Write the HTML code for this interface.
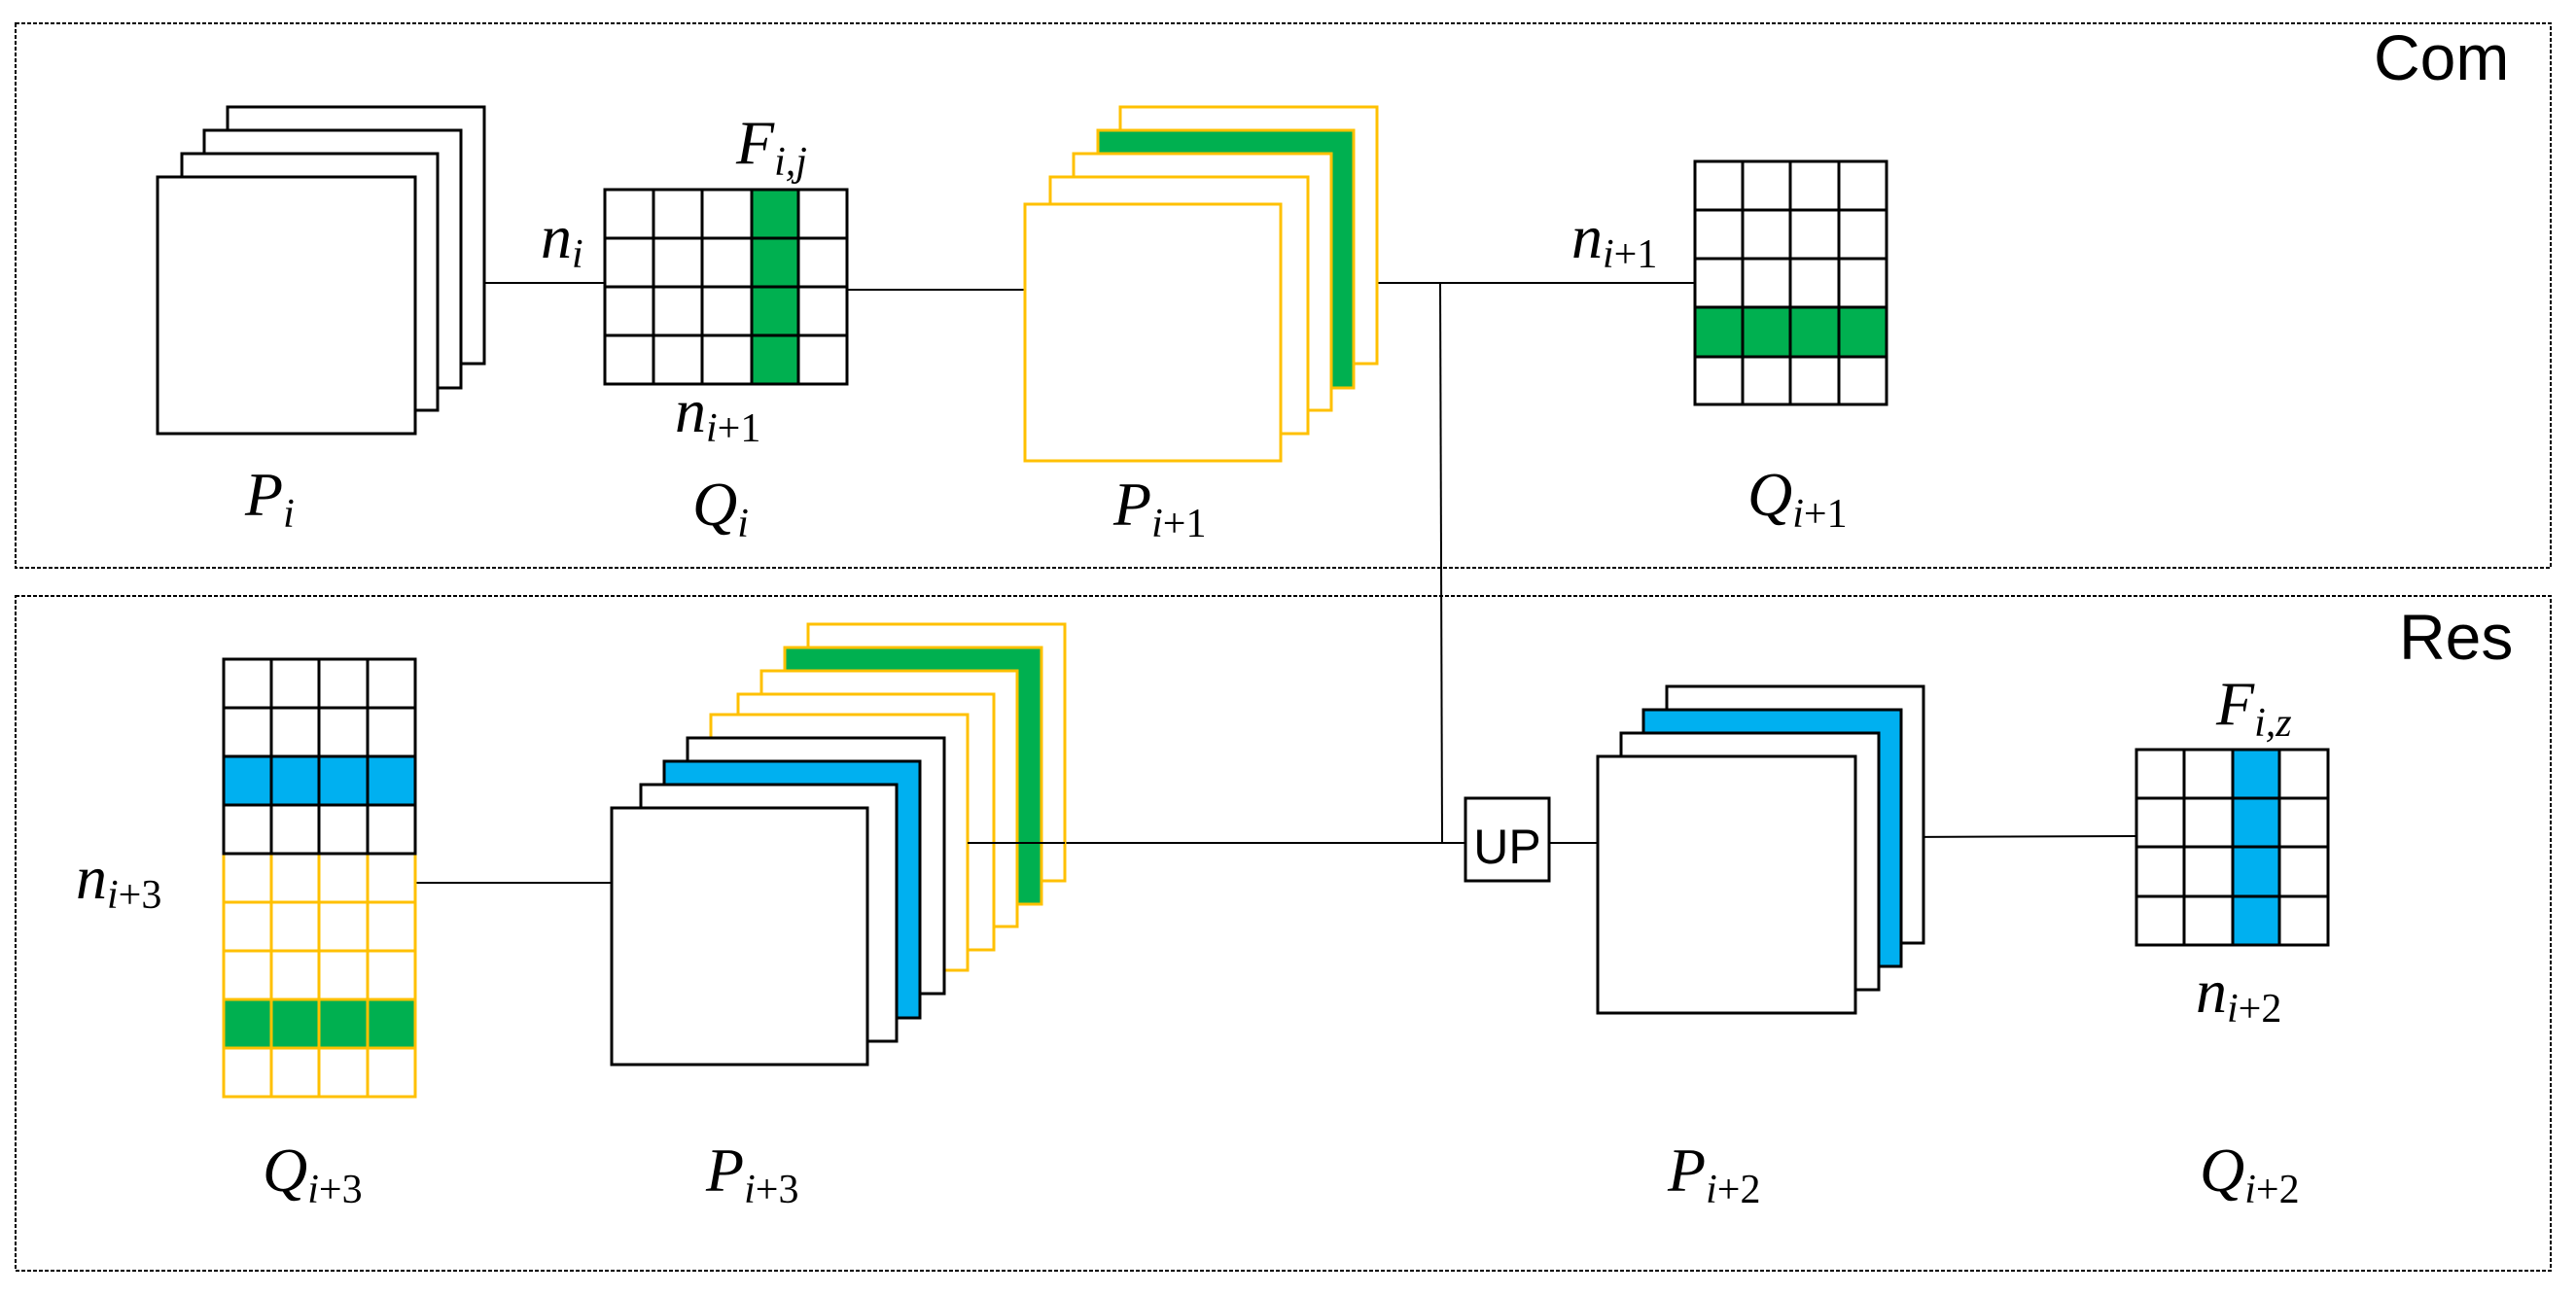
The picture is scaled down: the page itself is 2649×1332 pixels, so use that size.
<!DOCTYPE html>
<html><head><meta charset="utf-8"><style>
html,body{margin:0;padding:0;background:#fff;}
svg{display:block;}
.m{font-family:"Liberation Serif",serif;font-style:italic;font-size:64px;fill:#000;}
.s{font-size:42px;}
.u{font-style:normal;}
.lbl{font-family:"Liberation Sans",sans-serif;font-size:66px;fill:#000;}
</style></head><body>
<svg width="2649" height="1332" viewBox="0 0 2649 1332" xmlns="http://www.w3.org/2000/svg">
<!-- boxes -->
<rect x="16" y="24" width="2607" height="560" fill="none" stroke="#000" stroke-width="2" stroke-dasharray="4,2"/>
<rect x="16" y="613" width="2607" height="694" fill="none" stroke="#000" stroke-width="2" stroke-dasharray="4,2"/>
<text class="lbl" x="2441" y="82">Com</text>
<text class="lbl" x="2467" y="678">Res</text>

<!-- connectors -->
<g stroke="#000" stroke-width="2" fill="none">
<line x1="450" y1="291" x2="622" y2="291"/>
<line x1="871" y1="298" x2="1054" y2="298"/>
<line x1="1369" y1="291" x2="1743" y2="291"/>
<line x1="1481" y1="291" x2="1483" y2="867"/>
<line x1="427" y1="908" x2="629" y2="908"/>
<line x1="995" y1="867" x2="1507" y2="867"/>
<line x1="1593" y1="867" x2="1643" y2="867"/>
<line x1="1955" y1="861" x2="2197" y2="860"/>
</g>

<!-- P_i stack -->
<g stroke="#000" stroke-width="3" fill="#fff">
<rect x="234" y="110" width="264" height="264"/>
<rect x="210" y="134" width="264" height="265"/>
<rect x="187" y="158" width="263" height="264"/>
<rect x="162" y="182" width="265" height="264"/>
</g>

<!-- Q_i grid -->
<rect x="773" y="195" width="48" height="200" fill="#00b050"/>
<g stroke="#000" stroke-width="3" fill="none">
<rect x="622" y="195" width="249" height="200"/>
<line x1="672" y1="195" x2="672" y2="395"/><line x1="722" y1="195" x2="722" y2="395"/>
<line x1="773" y1="195" x2="773" y2="395"/><line x1="821" y1="195" x2="821" y2="395"/>
<line x1="622" y1="245" x2="871" y2="245"/><line x1="622" y1="295" x2="871" y2="295"/><line x1="622" y1="345" x2="871" y2="345"/>
</g>

<!-- P_{i+1} stack -->
<g stroke="#ffc000" stroke-width="3">
<rect x="1152" y="110" width="264" height="264" fill="#fff"/>
<rect x="1129" y="134" width="263" height="265" fill="#00b050"/>
<rect x="1104" y="158" width="265" height="264" fill="#fff"/>
<rect x="1080" y="182" width="265" height="264" fill="#fff"/>
<rect x="1054" y="210" width="263" height="264" fill="#fff"/>
</g>

<!-- Q_{i+1} grid -->
<rect x="1743" y="316" width="197" height="51" fill="#00b050"/>
<g stroke="#000" stroke-width="3" fill="none">
<rect x="1743" y="166" width="197" height="250"/>
<line x1="1792" y1="166" x2="1792" y2="416"/><line x1="1841" y1="166" x2="1841" y2="416"/><line x1="1891" y1="166" x2="1891" y2="416"/>
<line x1="1743" y1="216" x2="1940" y2="216"/><line x1="1743" y1="266" x2="1940" y2="266"/>
<line x1="1743" y1="316" x2="1940" y2="316"/><line x1="1743" y1="367" x2="1940" y2="367"/>
</g>

<!-- Q_{i+3} grid -->
<rect x="230" y="778" width="197" height="50" fill="#00b0f0"/>
<rect x="230" y="1028" width="197" height="50" fill="#00b050"/>
<g stroke="#ffc000" stroke-width="3" fill="none">
<rect x="230" y="878" width="197" height="250"/>
<line x1="279" y1="878" x2="279" y2="1128"/><line x1="328" y1="878" x2="328" y2="1128"/><line x1="378" y1="878" x2="378" y2="1128"/>
<line x1="230" y1="928" x2="427" y2="928"/><line x1="230" y1="978" x2="427" y2="978"/>
<line x1="230" y1="1028" x2="427" y2="1028"/><line x1="230" y1="1078" x2="427" y2="1078"/>
</g>
<g stroke="#000" stroke-width="3" fill="none">
<rect x="230" y="678" width="197" height="200"/>
<line x1="279" y1="678" x2="279" y2="878"/><line x1="328" y1="678" x2="328" y2="878"/><line x1="378" y1="678" x2="378" y2="878"/>
<line x1="230" y1="728" x2="427" y2="728"/><line x1="230" y1="778" x2="427" y2="778"/><line x1="230" y1="828" x2="427" y2="828"/>
</g>

<!-- P_{i+3} stack -->
<g stroke-width="3">
<rect x="831" y="642" width="264" height="264" fill="#fff" stroke="#ffc000"/>
<rect x="807" y="666" width="264" height="264" fill="#00b050" stroke="#ffc000"/>
<rect x="783" y="690" width="263" height="263" fill="#fff" stroke="#ffc000"/>
<rect x="759" y="714" width="263" height="263" fill="#fff" stroke="#ffc000"/>
<rect x="731" y="735" width="264" height="263" fill="#fff" stroke="#ffc000"/>
<rect x="707" y="759" width="264" height="263" fill="#fff" stroke="#000"/>
<rect x="683" y="783" width="263" height="264" fill="#00b0f0" stroke="#000"/>
<rect x="659" y="807" width="263" height="264" fill="#fff" stroke="#000"/>
<rect x="629" y="831" width="263" height="264" fill="#fff" stroke="#000"/>
</g>
<line x1="995" y1="867" x2="1095" y2="867" stroke="#000" stroke-width="2"/>

<!-- UP box -->
<rect x="1507" y="821" width="86" height="85" fill="#fff" stroke="#000" stroke-width="3"/>
<text x="1550" y="888" text-anchor="middle" style="font-family:'Liberation Sans',sans-serif;font-size:50px;">UP</text>

<!-- P_{i+2} stack -->
<g stroke="#000" stroke-width="3">
<rect x="1714" y="706" width="264" height="264" fill="#fff"/>
<rect x="1690" y="730" width="265" height="264" fill="#00b0f0"/>
<rect x="1667" y="754" width="265" height="264" fill="#fff"/>
<rect x="1643" y="778" width="265" height="264" fill="#fff"/>
</g>

<!-- Q_{i+2} grid -->
<rect x="2296" y="771" width="48" height="201" fill="#00b0f0"/>
<g stroke="#000" stroke-width="3" fill="none">
<rect x="2197" y="771" width="197" height="201"/>
<line x1="2246" y1="771" x2="2246" y2="972"/><line x1="2296" y1="771" x2="2296" y2="972"/><line x1="2344" y1="771" x2="2344" y2="972"/>
<line x1="2197" y1="821" x2="2394" y2="821"/><line x1="2197" y1="871" x2="2394" y2="871"/><line x1="2197" y1="922" x2="2394" y2="922"/>
</g>

<!-- math labels -->
<text class="m" x="252" y="530">P<tspan class="s" dy="12">i</tspan></text>
<text class="m" x="712" y="540">Q<tspan class="s" dy="12">i</tspan></text>
<text class="m" x="1145" y="540">P<tspan class="s" dy="12">i<tspan class="u">+1</tspan></tspan></text>
<text class="m" x="1797" y="530">Q<tspan class="s" dy="12">i<tspan class="u">+1</tspan></tspan></text>
<text class="m" x="757" y="168">F<tspan class="s" dy="12">i,j</tspan></text>
<text class="m" x="556" y="265">n<tspan class="s" dy="10">i</tspan></text>
<text class="m" x="694" y="444">n<tspan class="s" dy="10">i<tspan class="u">+1</tspan></tspan></text>
<text class="m" x="1616" y="265">n<tspan class="s" dy="10">i<tspan class="u">+1</tspan></tspan></text>
<text class="m" x="78" y="924">n<tspan class="s" dy="10">i<tspan class="u">+3</tspan></tspan></text>
<text class="m" x="270" y="1225">Q<tspan class="s" dy="12">i<tspan class="u">+3</tspan></tspan></text>
<text class="m" x="726" y="1225">P<tspan class="s" dy="12">i<tspan class="u">+3</tspan></tspan></text>
<text class="m" x="1715" y="1225">P<tspan class="s" dy="12">i<tspan class="u">+2</tspan></tspan></text>
<text class="m" x="2262" y="1225">Q<tspan class="s" dy="12">i<tspan class="u">+2</tspan></tspan></text>
<text class="m" x="2279" y="745">F<tspan class="s" dy="12">i,z</tspan></text>
<text class="m" x="2258" y="1041">n<tspan class="s" dy="10">i<tspan class="u">+2</tspan></tspan></text>
</svg>
</body></html>
